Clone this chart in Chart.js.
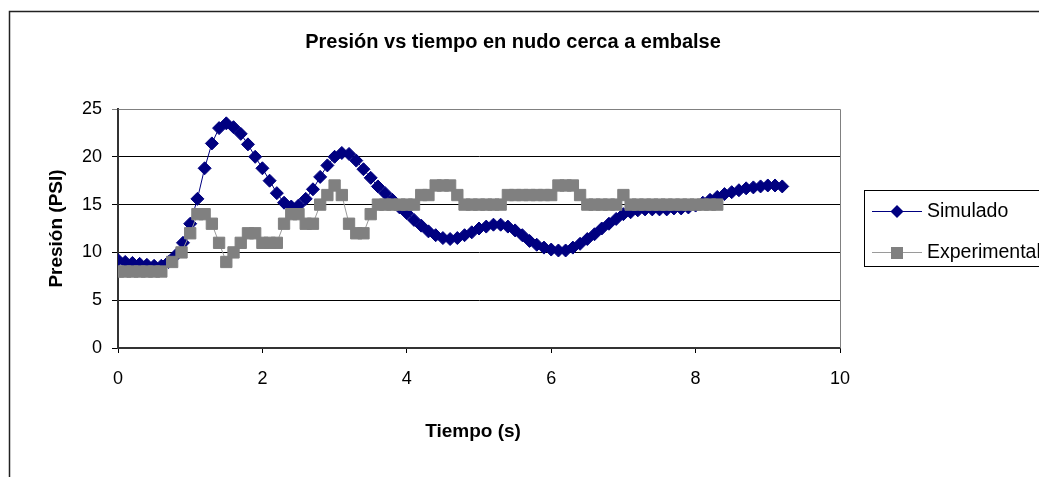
<!DOCTYPE html>
<html lang="es">
<head>
<meta charset="utf-8">
<title>Presión vs tiempo en nudo cerca a embalse</title>
<script src="https://cdn.jsdelivr.net/npm/chart.js@4.4.1/dist/chart.umd.min.js"></script>
<style>
  html, body { margin: 0; padding: 0; background: #fff; }
  #grafico { display: block; }
</style>
</head>
<body>
<canvas id="grafico" width="1039" height="477"></canvas>
<script>
// --- DATOS ---
// Serie simulada (cada 0.1 s)
const tiempoSim = [
  0, 0.1, 0.2, 0.3, 0.4, 0.5, 0.6, 0.7, 0.8, 0.9,
  1, 1.1, 1.2, 1.3, 1.4, 1.5, 1.6, 1.7, 1.8, 1.9,
  2, 2.1, 2.2, 2.3, 2.4, 2.5, 2.6, 2.7, 2.8, 2.9,
  3, 3.1, 3.2, 3.3, 3.4, 3.5, 3.6, 3.7, 3.8, 3.9,
  4, 4.1, 4.2, 4.3, 4.4, 4.5, 4.6, 4.7, 4.8, 4.9,
  5, 5.1, 5.2, 5.3, 5.4, 5.5, 5.6, 5.7, 5.8, 5.9,
  6, 6.1, 6.2, 6.3, 6.4, 6.5, 6.6, 6.7, 6.8, 6.9,
  7, 7.1, 7.2, 7.3, 7.4, 7.5, 7.6, 7.7, 7.8, 7.9,
  8, 8.1, 8.2, 8.3, 8.4, 8.5, 8.6, 8.7, 8.8, 8.9,
  9, 9.1, 9.2
];
const presionSim = [
  9.2, 9.0, 8.9, 8.8, 8.7, 8.6, 8.6, 9.0, 9.7, 11.0,
  13.0, 15.6, 18.8, 21.4, 23.0, 23.5, 23.1, 22.4, 21.3, 20.0,
  18.8, 17.5, 16.2, 15.2, 14.8, 14.9, 15.6, 16.6, 17.9, 19.1,
  20.0, 20.4, 20.3, 19.6, 18.7, 17.8, 16.9, 16.2, 15.5, 14.7,
  14.1, 13.4, 12.8, 12.2, 11.8, 11.5, 11.4, 11.5, 11.8, 12.1,
  12.5, 12.7, 12.9, 12.9, 12.7, 12.3, 11.8, 11.2, 10.8, 10.5,
  10.3, 10.2, 10.2, 10.5, 10.9, 11.4, 11.9, 12.5, 13.0, 13.5,
  14.0, 14.2, 14.4, 14.5, 14.5, 14.5, 14.5, 14.6, 14.6, 14.7,
  14.9, 15.2, 15.5, 15.8, 16.1, 16.3, 16.5, 16.7, 16.8, 16.9,
  17.0, 17.0, 16.9
];

// Serie medida en campo
const tiempoExp = [
  0, 0.1, 0.2, 0.3, 0.4, 0.5, 0.6, 0.75, 0.88,
  1, 1.1, 1.2, 1.3, 1.4, 1.5, 1.6, 1.7, 1.8, 1.9,
  2, 2.1, 2.2, 2.3, 2.4, 2.5, 2.6, 2.7, 2.8, 2.9,
  3, 3.1, 3.2, 3.3, 3.4, 3.5, 3.6, 3.7, 3.8, 3.9,
  4, 4.1, 4.2, 4.3, 4.4, 4.5, 4.6, 4.7, 4.8, 4.9,
  5, 5.1, 5.2, 5.3, 5.4, 5.5, 5.6, 5.7, 5.8, 5.9,
  6, 6.1, 6.2, 6.3, 6.4, 6.5, 6.6, 6.7, 6.8, 6.9,
  7, 7.1, 7.2, 7.3, 7.4, 7.5, 7.6, 7.7, 7.8, 7.9,
  8, 8.1, 8.2, 8.3
];
const presionExp = [
  8, 8, 8, 8, 8, 8, 8, 9, 10,
  12, 14, 14, 13, 11, 9, 10, 11, 12, 12,
  11, 11, 11, 13, 14, 14, 13, 13, 15, 16,
  17, 16, 13, 12, 12, 14, 15, 15, 15, 15,
  15, 15, 16, 16, 17, 17, 17, 16, 15, 15,
  15, 15, 15, 15, 16, 16, 16, 16, 16, 16,
  16, 17, 17, 17, 16, 15, 15, 15, 15, 15,
  16, 15, 15, 15, 15, 15, 15, 15, 15, 15,
  15, 15, 15, 15
];

const nombresSeries = ['Simulado', 'Experimental'];
const ticksTiempo = [0, 2, 4, 6, 8, 10];
const ticksPresion = [0, 5, 10, 15, 20, 25];

const tituloGrafico = 'Presión vs tiempo en nudo cerca a embalse';
const tituloX = 'Tiempo (s)';
const tituloY = 'Presión (PSI)';

// --- ESTILO ---
const FUENTE = "'Liberation Sans', Arial, sans-serif";
const AZUL = '#000080';
const GRIS = '#808080';
const GRIS_LINEA = '#9a9a9a';

function aPuntos(xs, ys) {
  return xs.map((x, i) => ({ x: x, y: ys[i] }));
}

// Rombo para la muestra de la leyenda
function dibujarRombo(ctx, x, y, r) {
  ctx.beginPath();
  ctx.moveTo(x - r, y);
  ctx.lineTo(x, y - r);
  ctx.lineTo(x + r, y);
  ctx.lineTo(x, y + r);
  ctx.closePath();
  ctx.fill();
}

// Marco exterior, títulos, borde del área y leyenda
const marcoPlugin = {
  id: 'marco',
  beforeDraw(chart) {
    const ctx = chart.ctx;
    ctx.save();
    ctx.fillStyle = '#fff';
    ctx.fillRect(0, 0, chart.width, chart.height);
    ctx.restore();
  },
  beforeDatasetsDraw(chart) {
    const { ctx, chartArea: a } = chart;
    ctx.save();
    ctx.strokeStyle = GRIS;
    ctx.lineWidth = 1;
    ctx.beginPath();
    ctx.moveTo(Math.round(a.left) + 0.5, Math.round(a.top) + 0.5);
    ctx.lineTo(Math.round(a.right) + 0.5, Math.round(a.top) + 0.5);
    ctx.lineTo(Math.round(a.right) + 0.5, Math.round(a.bottom));
    ctx.stroke();
    ctx.restore();
  },
  afterDraw(chart) {
    const ctx = chart.ctx;
    ctx.save();

    // marco del gráfico (se sale por la derecha y por abajo)
    ctx.strokeStyle = '#222';
    ctx.lineWidth = 1.5;
    ctx.beginPath();
    ctx.moveTo(9.5, chart.height + 5);
    ctx.lineTo(9.5, 11.5);
    ctx.lineTo(chart.width + 5, 11.5);
    ctx.stroke();

    // título y título del eje X
    ctx.fillStyle = '#000';
    ctx.font = 'bold 20px ' + FUENTE;
    ctx.textAlign = 'center';
    ctx.textBaseline = 'middle';
    ctx.fillText(tituloGrafico, 513, 42);

    ctx.font = 'bold 19px ' + FUENTE;
    ctx.fillText(tituloX, 473, 432);

    // leyenda
    ctx.strokeStyle = '#000';
    ctx.lineWidth = 1;
    ctx.strokeRect(864.5, 190.5, 200, 76);

    const filas = [211, 252];
    ctx.font = '19.5px ' + FUENTE;
    ctx.textAlign = 'left';

    // Simulado
    ctx.strokeStyle = AZUL;
    ctx.beginPath();
    ctx.moveTo(872, filas[0] + 0.5);
    ctx.lineTo(922, filas[0] + 0.5);
    ctx.stroke();
    ctx.fillStyle = AZUL;
    dibujarRombo(ctx, 897, filas[0] + 0.5, 6.5);
    ctx.fillStyle = '#000';
    ctx.fillText(nombresSeries[0], 927, filas[0] + 1);

    // Experimental
    ctx.strokeStyle = GRIS_LINEA;
    ctx.beginPath();
    ctx.moveTo(872, filas[1] + 0.5);
    ctx.lineTo(922, filas[1] + 0.5);
    ctx.stroke();
    ctx.fillStyle = GRIS;
    ctx.fillRect(891, filas[1] - 5, 12, 12);
    ctx.fillStyle = '#000';
    ctx.fillText(nombresSeries[1], 927, filas[1] + 1);

    ctx.restore();
  }
};

const ctx = document.getElementById('grafico').getContext('2d');
new Chart(ctx, {
  type: 'line',
  data: {
    datasets: [
      {
        label: nombresSeries[0],
        data: aPuntos(tiempoSim, presionSim),
        borderColor: AZUL,
        backgroundColor: AZUL,
        borderWidth: 1,
        pointStyle: 'rectRot',
        pointRadius: 6.5,
        pointBorderWidth: 1,
        pointBackgroundColor: AZUL,
        pointBorderColor: AZUL,
        tension: 0,
        order: 1
      },
      {
        label: nombresSeries[1],
        data: aPuntos(tiempoExp, presionExp),
        borderColor: GRIS_LINEA,
        backgroundColor: GRIS,
        borderWidth: 1,
        pointStyle: 'rect',
        pointRadius: 8,
        pointBorderWidth: 1,
        pointBackgroundColor: GRIS,
        pointBorderColor: GRIS,
        tension: 0,
        order: 0
      }
    ]
  },
  options: {
    responsive: false,
    animation: false,
    devicePixelRatio: 1,
    layout: { padding: { left: 0, right: 199, top: 109, bottom: 0 } },
    plugins: {
      legend: { display: false },
      title: { display: false },
      tooltip: { enabled: false }
    },
    scales: {
      x: {
        type: 'linear',
        min: 0,
        max: 10,
        afterBuildTicks: s => { s.ticks = ticksTiempo.map(v => ({ value: v })); },
        afterFit: s => { s.height = 129; },
        grid: { drawOnChartArea: false, drawTicks: true, tickLength: 5, tickColor: '#000' },
        border: { display: true, color: '#333', width: 2 },
        ticks: { color: '#000', padding: 15, maxRotation: 0, font: { family: FUENTE, size: 18 } },
        title: { display: false }
      },
      y: {
        min: 0,
        max: 25,
        afterBuildTicks: s => { s.ticks = ticksPresion.map(v => ({ value: v })); },
        afterFit: s => { s.width = 118; },
        grid: {
          color: c => (c.tick && c.tick.value === 25 ? GRIS : '#000'),
          lineWidth: 1,
          drawTicks: true,
          tickLength: 6
        },
        border: { display: true, color: '#333', width: 2 },
        ticks: { color: '#000', padding: 10, font: { family: FUENTE, size: 18 } },
        title: {
          display: true,
          text: tituloY,
          color: '#000',
          font: { family: FUENTE, size: 19, weight: 'bold' },
          padding: { top: 45, bottom: 0 }
        }
      }
    }
  },
  plugins: [marcoPlugin]
});
</script>
</body>
</html>
